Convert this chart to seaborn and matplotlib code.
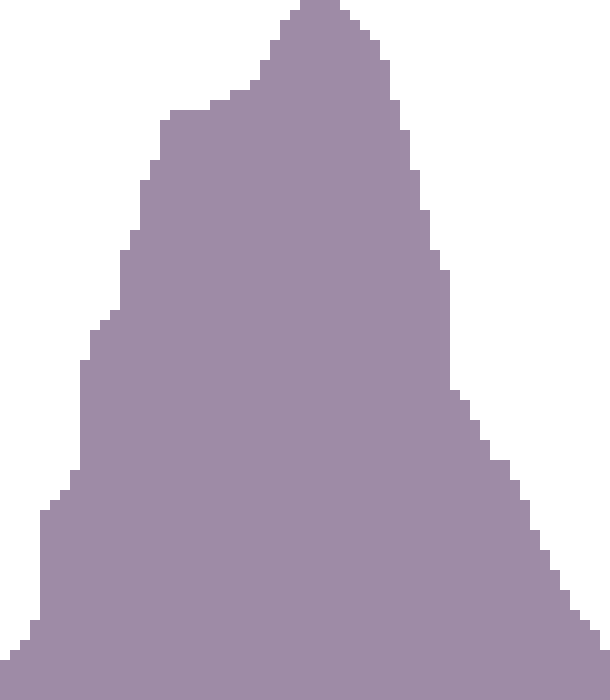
import numpy as np
import pandas as pd
import matplotlib
matplotlib.use("Agg")
import matplotlib.pyplot as plt
import seaborn as sns

# --- Data: bin counts (61 equal-width bins) ---
bin_index = np.arange(61)
bin_counts = [4, 5, 6, 8, 19, 20, 21, 23, 34, 37, 38, 39, 45, 47, 52, 54,
              58, 59, 59, 59, 59, 60, 60, 61, 61, 62, 64, 66, 68, 69, 70, 70,
              70, 70, 69, 68, 67, 66, 64, 60, 57, 53, 49, 45, 43, 31, 30, 28,
              26, 24, 24, 22, 20, 17, 15, 13, 11, 9, 8, 7, 5]
FILL_COLOR = "#9e8ba6"

df = pd.DataFrame({"pos": bin_index + 0.5, "count": bin_counts})

fig = plt.figure(figsize=(6.1, 7.0), dpi=100)
ax = fig.add_axes([0, 0, 1, 1])

sns.histplot(
    data=df,
    x="pos",
    weights="count",
    binwidth=1,
    binrange=(0, 61),
    element="step",
    fill=True,
    color=FILL_COLOR,
    alpha=1,
    linewidth=0,
    ax=ax,
)

ax.set_xlim(0, 61)
ax.set_ylim(0, 70)
ax.axis("off")

fig.savefig("out.png", dpi=100)
plt.close(fig)
